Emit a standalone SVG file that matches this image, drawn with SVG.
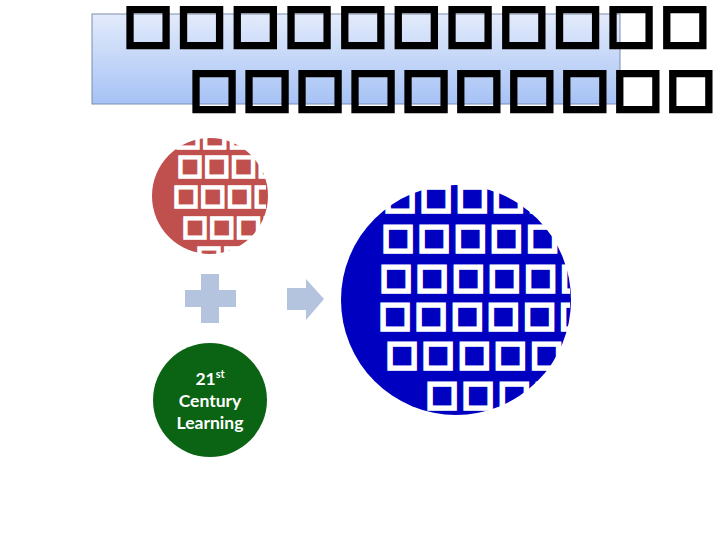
<svg xmlns="http://www.w3.org/2000/svg" width="720" height="540" viewBox="0 0 720 540">
<defs>
<linearGradient id="tg" x1="0" y1="0" x2="0" y2="1">
<stop offset="0" stop-color="#e3ebfb"/>
<stop offset="1" stop-color="#a6c2f5"/>
</linearGradient>
<clipPath id="cr"><rect x="150" y="120" width="116" height="145"/></clipPath>
<clipPath id="cb"><rect x="340" y="180" width="230" height="240"/></clipPath>
</defs>
<style>
.tofu{font-family:"DejaVu Sans",sans-serif}
.ttl{font-size:51px;fill:#000;stroke:#000;stroke-width:4.5px}
.rw{font-size:27px;fill:#fff;stroke:#fff;stroke-width:2.8px;letter-spacing:1.3px}
.bw{font-size:34px;fill:#fff;stroke:#fff;stroke-width:3.5px;letter-spacing:4px}
.lbl{font-family:Lato,"Liberation Sans",sans-serif;font-weight:bold;font-size:17.5px;fill:#fff;text-anchor:middle}
.shape{fill:#b4c4de}
</style>
<rect width="720" height="540" fill="#fff"/>
<g id="title">
<rect x="92" y="14" width="528" height="90" fill="url(#tg)" stroke="#7a8eae" stroke-width="1"/>
<text class="tofu ttl" x="123.7" y="41.4" letter-spacing="5.5">□□□□□□□□□□□</text>
<text class="tofu ttl" x="189.7" y="105.4" letter-spacing="4.8">□□□□□□□□□□</text>
</g>
<g id="red-node">
<circle cx="210" cy="196" r="58" fill="#c0504d"/>
<g clip-path="url(#cr)" class="tofu rw">
<text x="175.2" y="145.4">□□□□</text>
<text x="177.2" y="174.4">□□□□</text>
<text x="173.2" y="204.4">□□□□</text>
<text x="182.2" y="235.4">□□□□</text>
<text x="196.2" y="265.4">□□□</text>
</g>
</g>
<g id="connectors">
<path class="shape" d="M185 290H201V274H219V290H236V307H219V323H201V307H185Z"/>
<path class="shape" d="M287 288H306V279L324 299L306 320V310H287Z"/>
</g>
<g id="green-node">
<circle cx="210" cy="400" r="57" fill="#0b6414"/>
<text class="lbl" x="210" y="385">21<tspan font-size="11" dy="-7">st</tspan></text>
<text class="lbl" x="210" y="407">Century</text>
<text class="lbl" x="210" y="429">Learning</text>
</g>
<g id="blue-node">
<circle cx="456" cy="300" r="115" fill="#0000c0"/>
<g clip-path="url(#cb)" class="tofu bw">
<text x="384" y="208.2">□□□□□□</text>
<text x="382" y="248.2">□□□□□□</text>
<text x="380" y="288.2">□□□□□□</text>
<text x="379" y="326.2">□□□□□□</text>
<text x="386" y="365.2">□□□□□</text>
<text x="426" y="405.2">□□□□</text>
</g>
</g>
</svg>
